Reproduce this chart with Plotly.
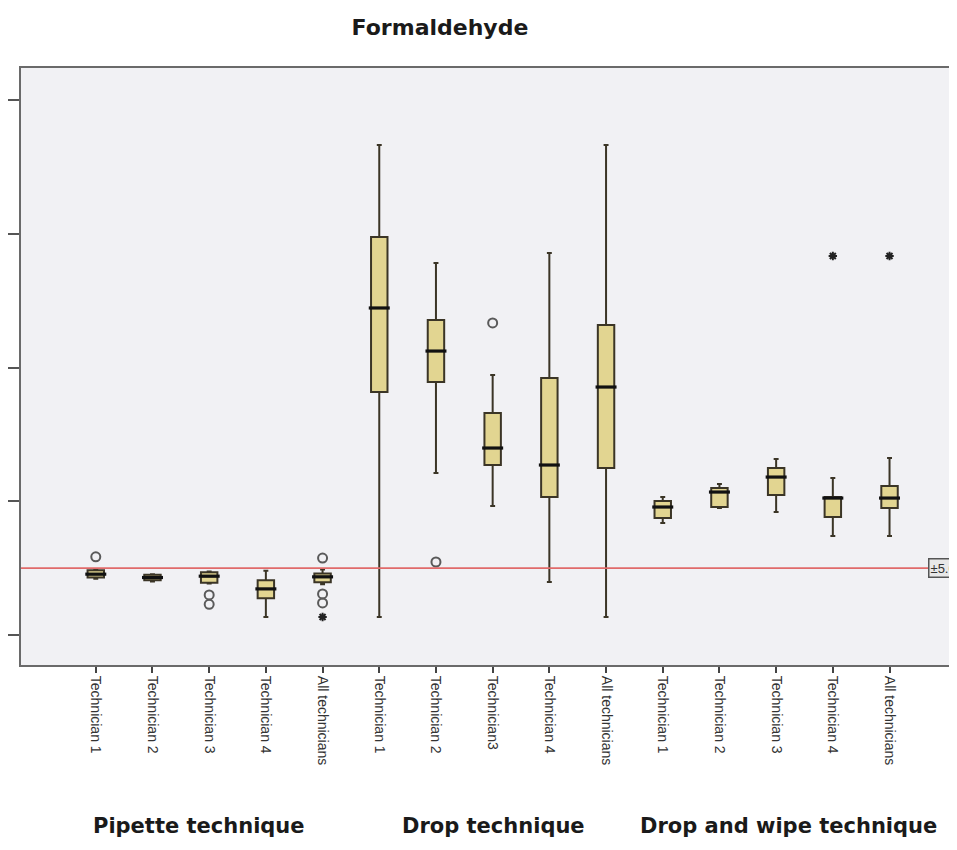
import plotly.graph_objects as go

# ---------------- data ----------------
tick_labels = [
    "Technician 1", "Technician 2", "Technician 3", "Technician 4", "All technicians",
    "Technician 1", "Technician 2", "Technician3", "Technician 4", "All technicians",
    "Technician 1", "Technician 2", "Technician 3", "Technician 4", "All technicians",
]
groups = ["Pipette technique", "Drop technique", "Drop and wipe technique"]

lower_fence = [4.20, 4.00, 3.85, 1.35, 3.80,
               1.35, 12.11, 9.64, 3.96, 1.35,
               8.37, 9.50, 9.20, 7.40, 7.40]
q1_vals = [4.30, 4.10, 3.90, 2.75, 3.95,
           18.17, 18.92, 12.71, 10.32, 12.49,
           8.75, 9.57, 10.47, 8.82, 9.50]
median_vals = [4.55, 4.30, 4.40, 3.45, 4.35,
               24.45, 21.23, 13.98, 12.71, 18.54,
               9.57, 10.69, 11.81, 10.24, 10.24]
q3_vals = [4.85, 4.50, 4.70, 4.10, 4.60,
           29.76, 23.55, 16.60, 19.21, 23.18,
           10.02, 10.99, 12.49, 10.32, 11.14]
upper_fence = [4.90, 4.55, 4.75, 4.80, 4.90,
               36.64, 27.81, 19.44, 28.56, 36.64,
               10.32, 11.29, 13.16, 11.74, 13.23]

# outliers (index of box, value)
circle_idx = [0, 2, 2, 4, 4, 4, 6, 7]
circle_val = [5.85, 3.00, 2.30, 5.75, 3.07, 2.40, 5.46, 23.33]
star_idx = [4, 13, 14]
star_val = [1.35, 28.34, 28.34]

reference_level = 5.0
reference_label = "±5.0"
y_ticks = [0, 10, 20, 30, 40]

# ---------------- figure ----------------
positions = list(range(len(tick_labels)))
font_family = "Liberation Sans, Arial, sans-serif"
bold_family = "DejaVu Sans, Verdana, sans-serif"
box_fill = "#e2d591"
box_line = "#3b3526"

# page body has an 8px margin; compensate so the figure lands where the reference is
OFF = 8
W, H = 957 - OFF, 850 - 2 * OFF
plot_left, plot_top, plot_bottom = 18, 68, 665   # page pixels of plot frame
plot_w = 957 - plot_left
plot_h = plot_bottom - plot_top

fig = go.Figure()

fig.add_trace(go.Box(
    x=positions,
    q1=q1_vals, median=median_vals, q3=q3_vals,
    lowerfence=lower_fence, upperfence=upper_fence,
    boxpoints=False,
    width=0.29,
    whiskerwidth=0.3,
    fillcolor=box_fill,
    line=dict(color=box_line, width=2),
    showlegend=False,
    hoverinfo="skip",
))

# thicker median bars
fig.add_trace(go.Scatter(
    x=positions, y=median_vals, mode="markers",
    marker=dict(symbol="line-ew", size=15, line=dict(color="#111111", width=3.2)),
    showlegend=False, hoverinfo="skip",
))

fig.add_trace(go.Scatter(
    x=circle_idx, y=circle_val, mode="markers",
    marker=dict(symbol="circle-open", size=9, color="#5a5a5a", line=dict(width=2)),
    showlegend=False, hoverinfo="skip",
))
fig.add_trace(go.Scatter(
    x=star_idx, y=star_val, mode="markers",
    marker=dict(symbol="asterisk-open", size=7, color="#222222", line=dict(width=2)),
    showlegend=False, hoverinfo="skip",
))

# reference line
fig.add_shape(type="line", xref="paper", x0=0, x1=1, yref="y",
              y0=reference_level, y1=reference_level,
              line=dict(color="#e06a6a", width=1.6), layer="above")
fig.add_annotation(xref="paper", x=(928 - plot_left) / plot_w, xanchor="left",
                   yref="y", y=reference_level, yanchor="middle",
                   text=reference_label, showarrow=False,
                   font=dict(family=font_family, size=13, color="#333333"),
                   bordercolor="#555555", borderwidth=1.5, bgcolor="#e8e8e8",
                   borderpad=1)

# group labels
group_px = [197, 492, 788]
for g, px in zip(groups, group_px):
    fig.add_annotation(xref="paper", x=(px - plot_left) / plot_w, xanchor="center",
                       yref="paper", y=(plot_bottom - 826) / plot_h, yanchor="middle",
                       text="<b>%s</b>" % g, showarrow=False,
                       font=dict(family=bold_family, size=21, color="#1a1a1a"))

fig.update_layout(
    width=W, height=H,
    margin=dict(l=plot_left - OFF, r=0, t=plot_top - OFF, b=H - (plot_bottom - OFF)),
    paper_bgcolor="white",
    plot_bgcolor="#f1f1f4",
    title=dict(text="<b>Formaldehyde</b>", x=(440 - OFF) / W, xanchor="center",
               y=1 - (27 - OFF) / H, yanchor="middle",
               font=dict(family=bold_family, size=22, color="#1a1a1a")),
    font=dict(family=font_family),
)

fig.update_xaxes(
    range=[-1.319, 15.19],
    tickmode="array", tickvals=positions, ticktext=tick_labels,
    tickangle=90, ticks="outside", ticklen=6, tickwidth=1.5, tickcolor="#444444",
    tickfont=dict(family=font_family, size=14, color="#333333"),
    showline=True, linecolor="#6a6a6a", linewidth=2, mirror=True,
    showgrid=False, zeroline=False,
)
fig.update_yaxes(
    range=[-2.24, 42.39],
    tickmode="array", tickvals=y_ticks, showticklabels=False,
    ticks="outside", ticklen=13, tickwidth=2, tickcolor="#555555",
    showline=True, linecolor="#6a6a6a", linewidth=2, mirror=False,
    showgrid=False, zeroline=False,
)

fig.write_html("out.html")
